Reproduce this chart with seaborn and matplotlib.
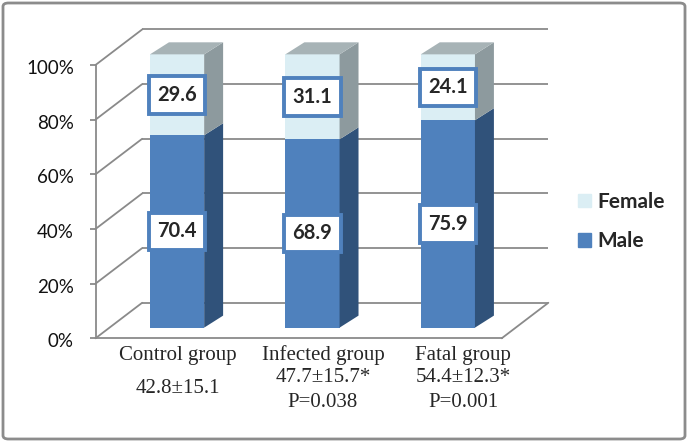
import matplotlib
matplotlib.use('Agg')

import pandas as pd
import matplotlib.pyplot as plt
import matplotlib.transforms as mtransforms
from matplotlib.patches import Patch, FancyBboxPatch, Rectangle
import seaborn as sns

# ------------------------------------------------------------
# DATA
# ------------------------------------------------------------

groups = ["Control group", "Infected group", "Fatal group"]
age_lines = ["42.8±15.1", "47.7±15.7*", "54.4±12.3*"]
p_lines = ["", "P=0.038", "P=0.001"]

male = [70.4, 68.9, 75.9]
female = [29.6, 31.1, 24.1]

y_ticks = [0, 20, 40, 60, 80, 100]

# ------------------------------------------------------------
# STYLE
# ------------------------------------------------------------

MALE_FRONT = '#4f81bd'
MALE_SIDE = '#30527a'
FEMALE_FRONT = '#dbeef4'
FEMALE_SIDE = '#8d9a9e'
FEMALE_TOP = '#a7b3b6'
GRID = '#8a8a8a'

BAR_W = 0.40
# oblique offsets (data units) of the bar plane, bar depth and back wall
BAR_DX, BAR_DY = 0.1025, 3.9
DEPTH_DX, DEPTH_DY = 0.140, 4.4
BACK_DX, BACK_DY = 0.3445, 13.0

# value box size (data units)
BOX_W, BOX_H = 0.414, 13.7

# label nudges under the floor
LABEL_SHIFT = [0.11, 0.18, 0.215]

sns.set_style("white")
plt.rcParams['font.family'] = ['Lato', 'DejaVu Sans']

df = pd.DataFrame({'group': groups, 'male': male, 'female': female})
df['total'] = df['male'] + df['female']

fig = plt.figure(figsize=(6.88, 4.42), dpi=100)
ax = fig.add_axes([95.5 / 688, 1 - 338.3 / 442, 406.2 / 688, 273.3 / 442])

bar_plane = mtransforms.Affine2D().translate(BAR_DX, BAR_DY) + ax.transData
back_plane = mtransforms.Affine2D().translate(BACK_DX, BACK_DY) + ax.transData

# ------------------------------------------------------------
# FRONT FACES
# ------------------------------------------------------------

sns.barplot(data=df, x='group', y='total', color=FEMALE_FRONT,
            width=BAR_W, saturation=1, errorbar=None, ax=ax)
sns.barplot(data=df, x='group', y='male', color=MALE_FRONT,
            width=BAR_W, saturation=1, errorbar=None, ax=ax)

for p in ax.patches:
    p.set_transform(bar_plane)
    p.set_clip_on(False)
    p.set_edgecolor('none')
    p.set_zorder(3)

# ------------------------------------------------------------
# SIDES, TOPS, VALUE BOXES
# ------------------------------------------------------------

for i, row in df.iterrows():
    xr = i + BAR_W / 2
    xl = i - BAR_W / 2
    m = row['male']
    t = row['total']

    ax.fill([xr, xr + DEPTH_DX, xr + DEPTH_DX, xr],
            [0, DEPTH_DY, m + DEPTH_DY, m],
            color=MALE_SIDE, lw=0, zorder=3, clip_on=False,
            transform=bar_plane)
    ax.fill([xr, xr + DEPTH_DX, xr + DEPTH_DX, xr],
            [m, m + DEPTH_DY, t + DEPTH_DY, t],
            color=FEMALE_SIDE, lw=0, zorder=3, clip_on=False,
            transform=bar_plane)
    ax.fill([xl, xr, xr + DEPTH_DX, xl + DEPTH_DX],
            [t, t, t + DEPTH_DY, t + DEPTH_DY],
            color=FEMALE_TOP, lw=0, zorder=3, clip_on=False,
            transform=bar_plane)

    for val, center in [(m, m / 2), (row['female'], m + row['female'] / 2)]:
        ax.add_patch(Rectangle((i - BOX_W / 2, center - BOX_H / 2),
                               BOX_W, BOX_H, transform=bar_plane,
                               fc='white', ec=MALE_FRONT, lw=2.8,
                               zorder=5, clip_on=False))
        ax.text(i, center, f"{val:.1f}", transform=bar_plane,
                ha='center', va='center', fontsize=14.5,
                fontweight='bold', zorder=6, clip_on=False)

# ------------------------------------------------------------
# BACK WALL / FLOOR
# ------------------------------------------------------------

ax.hlines(y_ticks, -0.5, 2.5, transform=back_plane,
          color=GRID, lw=1.3, zorder=1, clip_on=False)

for t in y_ticks:
    ax.plot([-0.5, -0.5 + BACK_DX], [t, t + BACK_DY],
            color=GRID, lw=1.3, zorder=1, clip_on=False)

ax.plot([2.5, 2.5 + BACK_DX], [0, BACK_DY],
        color=GRID, lw=1.3, zorder=1, clip_on=False)

# ------------------------------------------------------------
# AXES
# ------------------------------------------------------------

ax.set_xlim(-0.5, 2.5)
ax.set_ylim(0, 100)
ax.set_xticks([])
ax.set_xlabel('')
ax.set_ylabel('')
ax.set_facecolor('none')

ax.set_yticks(y_ticks)
ax.set_yticklabels([f"{t}%" for t in y_ticks])
ax.tick_params(axis='y', left=True, direction='out', length=4.3,
               width=1.3, color=GRID, pad=11.3, labelsize=13.5,
               labelcolor='#111111')
for lab in ax.get_yticklabels():
    lab.set_transform(lab.get_transform() +
                      mtransforms.ScaledTranslation(0, -2 / 100, fig.dpi_scale_trans))

for side in ['top', 'right']:
    ax.spines[side].set_visible(False)
for side in ['left', 'bottom']:
    ax.spines[side].set_color(GRID)
    ax.spines[side].set_linewidth(1.3)
    ax.spines[side].set_zorder(2)

# category labels
serif = ['Liberation Serif', 'DejaVu Serif']
for i in range(len(groups)):
    x = i + LABEL_SHIFT[i]
    ax.text(x, -7.8, groups[i], family=serif, fontsize=15,
            ha='center', va='baseline', clip_on=False)
    if p_lines[i]:
        ax.text(x, -16.0, age_lines[i], family=serif, fontsize=15,
                ha='center', va='baseline', clip_on=False)
        ax.text(x, -25.0, p_lines[i], family=serif, fontsize=15,
                ha='center', va='baseline', clip_on=False)
    else:
        ax.text(x, -20.0, age_lines[i], family=serif, fontsize=15,
                ha='center', va='baseline', clip_on=False)

# legend
handles = [Patch(color=FEMALE_FRONT, label='Female'),
           Patch(color=MALE_FRONT, label='Male')]
fig.legend(handles=handles, loc='upper left',
           bbox_to_anchor=(578 / 688, 1 - 192 / 442),
           frameon=False, prop=dict(weight='bold', size=15),
           handlelength=0.61, handleheight=0.61, handletextpad=0.32,
           labelspacing=0.92, borderpad=0, borderaxespad=0)

# outer frame
fig.patches.append(FancyBboxPatch(
    (3 / 688, 3 / 442), 682 / 688, 436 / 442,
    boxstyle='round,pad=0,rounding_size=0.008',
    transform=fig.transFigure, fill=False, ec='#8c8c8c', lw=2))

fig.savefig('out.png', dpi=100)
